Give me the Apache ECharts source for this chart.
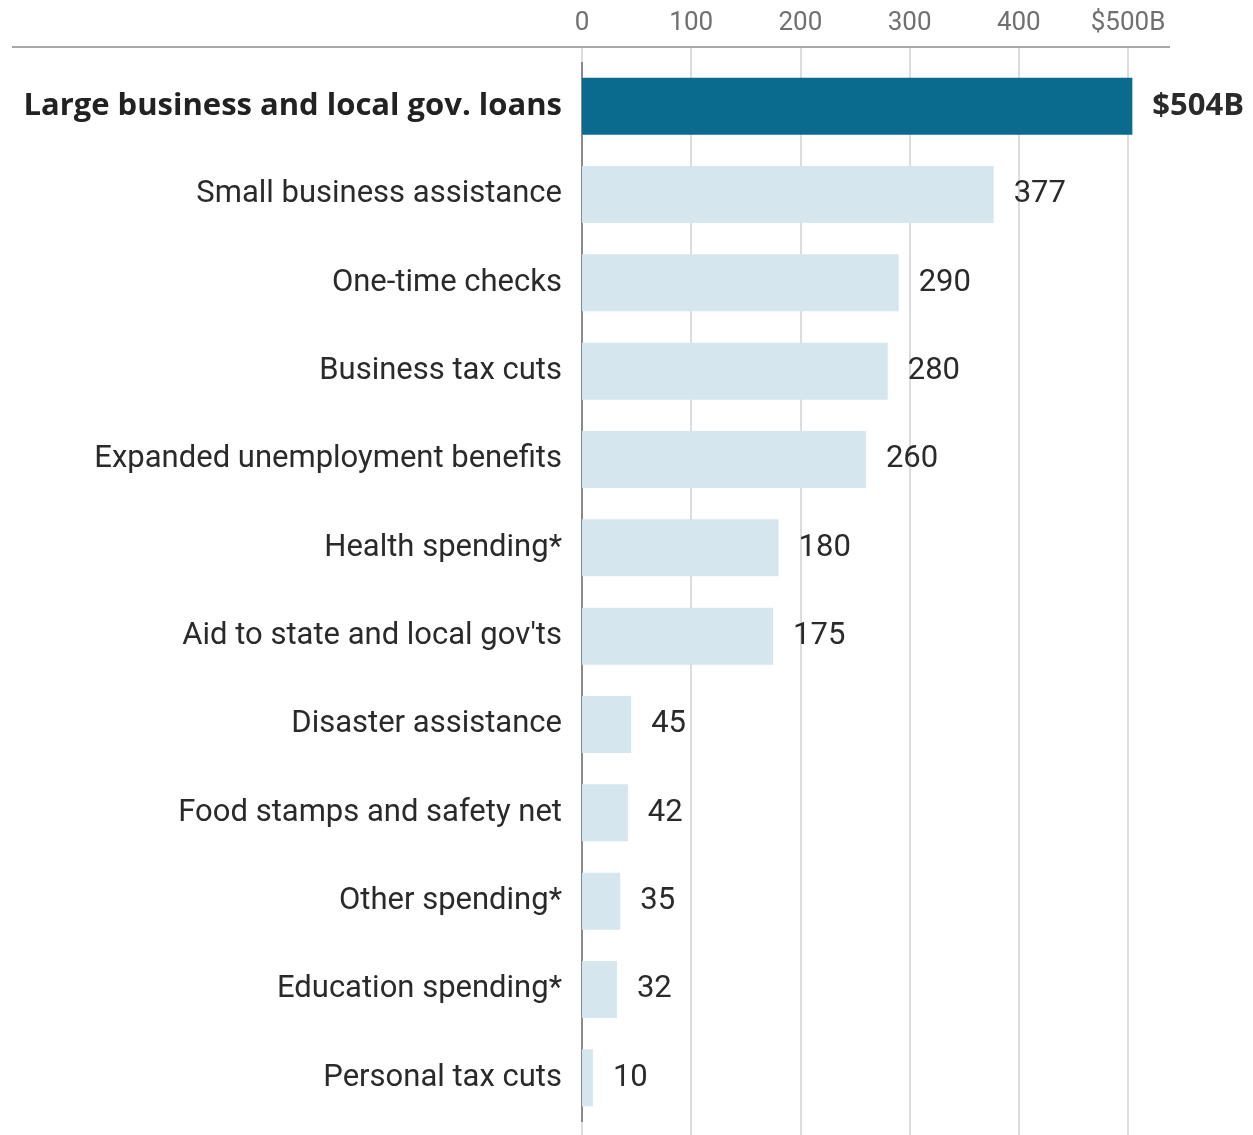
<!DOCTYPE html>
<html>
<head>
<meta charset="utf-8">
<script src="https://cdn.jsdelivr.net/npm/echarts@6/dist/echarts.min.js"></script>
<style>
html,body{margin:0;padding:0;background:#fff;}
#chart{width:1253px;height:1135px;}
</style>
</head>
<body>
<div id="chart"></div>
<script>
var categories = [
  "Large business and local gov. loans",
  "Small business assistance",
  "One-time checks",
  "Business tax cuts",
  "Expanded unemployment benefits",
  "Health spending*",
  "Aid to state and local gov'ts",
  "Disaster assistance",
  "Food stamps and safety net",
  "Other spending*",
  "Education spending*",
  "Personal tax cuts"
];
var values = [504, 377, 290, 280, 260, 180, 175, 45, 42, 35, 32, 10];
var tickLabels = ["0", "100", "200", "300", "400", "$500B"];

var highlightIndex = 0;
var chart = echarts.init(document.getElementById('chart'), null, {renderer: 'canvas'});
var FONT = 'Roboto';
var BOLDFONT = 'Open Sans';

var data = values.map(function (v, i) {
  var hl = i === highlightIndex;
  return {
    value: v,
    itemStyle: {color: hl ? '#0b6b8f' : '#d5e6ef'},
    label: hl ? {fontWeight: 'bold', fontFamily: BOLDFONT, fontSize: 31, color: '#2a2a2a', formatter: '$' + v + 'B'} : {}
  };
});

var option = {
  animation: false,
  textStyle: {fontFamily: FONT},
  grid: {left: 582, right: 125, top: 62, bottom: 13, containLabel: false},
  xAxis: [{
    type: 'value',
    position: 'top',
    min: 0, max: 500, interval: 100,
    offset: 15,
    axisLine: {show: false},
    axisTick: {show: true, inside: true, length: 15, lineStyle: {color: '#dcdcdc', width: 2}},
    axisLabel: {
      color: '#707070', fontSize: 26, fontFamily: FONT, margin: 11,
      formatter: function (v) { return tickLabels[Math.round(v / 100)]; }
    },
    splitLine: {show: true, lineStyle: {color: ['#8a8a8a', '#dcdcdc', '#dcdcdc', '#dcdcdc', '#dcdcdc', '#dcdcdc'], width: 2}}
  }, {
    type: 'value',
    position: 'bottom',
    min: 0, max: 500, interval: 100,
    axisLine: {show: false},
    axisTick: {show: true, inside: false, length: 13, lineStyle: {color: '#dcdcdc', width: 2}},
    axisLabel: {show: false},
    splitLine: {show: false}
  }],
  yAxis: {
    type: 'category',
    inverse: true,
    data: categories,
    axisLine: {show: true, lineStyle: {color: '#8a8a8a', width: 2}},
    axisTick: {show: false},
    axisLabel: {
      margin: 20,
      fontSize: 31,
      color: '#2a2a2a',
      fontFamily: FONT,
      formatter: function (v, i) { return i === highlightIndex ? '{b|' + v + '}' : v; },
      rich: {b: {fontWeight: 'bold', fontSize: 31, color: '#222', fontFamily: BOLDFONT}}
    }
  },
  series: [{
    type: 'bar',
    xAxisIndex: 0,
    data: data,
    barWidth: 57,
    clip: false,
    label: {
      show: true,
      position: 'right',
      distance: 20,
      fontSize: 31,
      color: '#2a2a2a',
      fontFamily: FONT
    }
  }],
  graphic: [{
    type: 'line',
    shape: {x1: 12, y1: 47, x2: 1170, y2: 47},
    style: {stroke: '#a8a8a8', lineWidth: 2},
    z: 10
  }]
};
chart.setOption(option);
</script>
</body>
</html>
